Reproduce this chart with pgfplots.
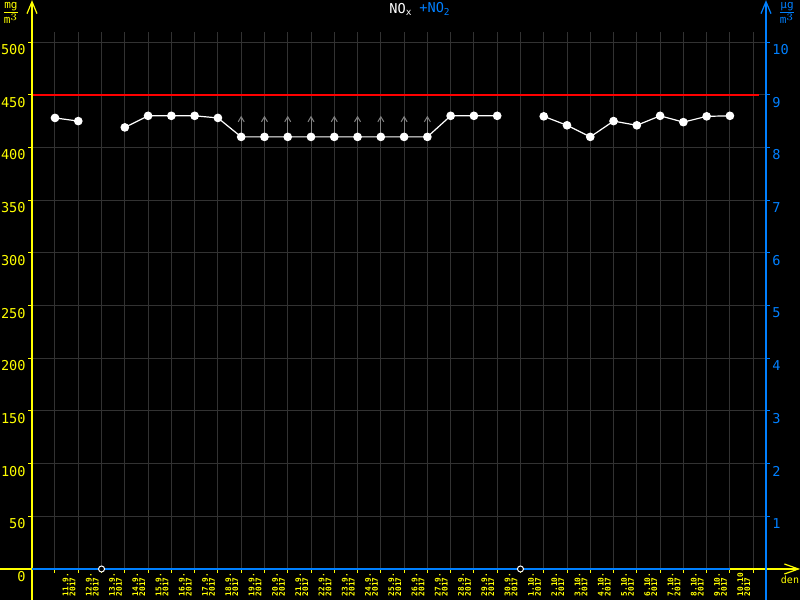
\documentclass[border=0pt]{standalone}
\usepackage{pgfplots}
\pgfplotsset{compat=1.18}
\usetikzlibrary{arrows.meta}
\usepackage{fontspec}
\setmainfont{DejaVu Sans Mono}
\definecolor{yel}{RGB}{255,255,0}
\definecolor{blu}{RGB}{0,128,255}
\definecolor{gridc}{RGB}{50,50,50}
\definecolor{arrc}{RGB}{128,128,128}
\newcommand\tickfont{\fontsize{6.8}{7}\selectfont}
\newcommand\xfont{\fontsize{3.9}{3.5}\selectfont\bfseries}
\pgfplotstableread{
k val
0 428
1 425
2 nan
3 419
4 430
5 430
6 430
7 428
8 410
9 410
10 410
11 410
12 410
13 410
14 410
15 410
16 410
17 430
18 430
19 430
20 nan
21 429.5
22 421
23 410
24 425
25 421
26 430
27 424
28 429.5
29 430
}\noxdata
\begin{document}
\begin{tikzpicture}
\path[use as bounding box, fill=black] (0,0) rectangle (400pt,300pt);
\begin{axis}[
  at={(16pt,15.5pt)}, anchor=south west, scale only axis,
  width=367pt, height=268.75pt,
  xmin=-0.988, xmax=30.55, ymin=0, ymax=510,
  clip=false,
  axis line style={draw=none},
  tick align=outside,
  major tick length=2pt, minor tick length=2pt,
  ytick={0,50,...,500}, ytick pos=left,
  y tick style={yel, line width=0.5pt},
  yticklabel style={text=yel, anchor=north east, inner sep=1pt, font=\tickfont},
  /pgf/number format/assume math mode=true,
  ymajorgrids,
  grid style={gridc, line width=0.5pt},
  minor grid style={gridc, line width=0.5pt},
  xtick={0.6,1.6,...,29.6},
  xticklabels={{11.9.\\2017},{12.9.\\2017},{13.9.\\2017},{14.9.\\2017},{15.9.\\2017},{16.9.\\2017},{17.9.\\2017},{18.9.\\2017},{19.9.\\2017},{20.9.\\2017},{21.9.\\2017},{22.9.\\2017},{23.9.\\2017},{24.9.\\2017},{25.9.\\2017},{26.9.\\2017},{27.9.\\2017},{28.9.\\2017},{29.9.\\2017},{30.9.\\2017},{1.10.\\2017},{2.10.\\2017},{3.10.\\2017},{4.10.\\2017},{5.10.\\2017},{6.10.\\2017},{7.10.\\2017},{8.10.\\2017},{9.10.\\2017},{10.10.\\2017}},
  xtick pos=bottom,
  major x tick style={draw=none},
  minor xtick={0,1,...,30},
  minor x tick style={yel, line width=0.5pt},
  xminorgrids,
  xticklabel shift=-2.6pt,
  xticklabel style={rotate=90, anchor=east, align=left, text width=14pt, text=yel, font=\xfont, inner sep=0pt},
  unbounded coords=jump,
]
\addplot[red, line width=1pt, forget plot] coordinates {(-0.988,450) (30.25,450)};
\addplot[arrc, line width=0.5pt, quiver={u=0, v=20}, -{Straight Barb[length=2.5pt, width=3pt]}] coordinates {(8,410) (9,410) (10,410) (11,410) (12,410) (13,410) (14,410) (15,410) (16,410)};
\addplot[white, line width=0.6pt, mark=*, mark size=1.85pt, mark options={fill=white}] table[x=k, y=val] {\noxdata};
\draw[yel, line width=0.6pt, -{Straight Barb[length=6pt, width=5pt]}] (axis cs:-0.988,-29.5) -- (axis cs:-0.988,539.8);
\draw[yel, line width=0.6pt, -{Straight Barb[length=7pt, width=5pt]}] (axis cs:-2.38,0) -- (axis cs:32.02,0);
\draw[blu, line width=0.6pt] (axis cs:-0.988,0) -- (axis cs:29,0);
\draw[blu, line width=0.6pt, -{Straight Barb[length=6pt, width=5pt]}] (axis cs:30.55,-29.5) -- (axis cs:30.55,539.8);
\addplot[only marks, mark=*, mark size=1.5pt, mark options={draw=white, fill=black, line width=0.5pt}] coordinates {(2,0) (20,0)};
\end{axis}
\begin{axis}[
  at={(16pt,15.5pt)}, anchor=south west, scale only axis,
  width=367pt, height=268.75pt,
  xmin=-0.988, xmax=30.55, ymin=0, ymax=10.2,
  axis line style={draw=none},
  hide x axis,
  tick align=outside, major tick length=2pt,
  ytick={1,...,10}, ytick pos=right, yticklabel pos=right,
  y tick style={blu, line width=0.5pt},
  yticklabel style={text=blu, anchor=north west, inner sep=1pt, font=\tickfont},
  /pgf/number format/assume math mode=true,
]
\end{axis}
\node[anchor=west, text=white, inner sep=0pt, font=\tickfont] at (194.5pt,295.5pt) {NO\textsubscript{x}};
\node[anchor=west, text=blu, inner sep=0pt, font=\tickfont] at (209.5pt,295.5pt) {+NO\textsubscript{2}};
\node[text=yel, inner sep=0pt, font=\fontsize{5.5}{5.5}\selectfont] at (5.5pt,293.5pt) {$\frac{\hbox{mg}}{\hbox{m}^{3}}$};
\node[text=blu, inner sep=0pt, font=\fontsize{5.5}{5.5}\selectfont] at (393.5pt,293.5pt) {$\frac{\hbox{µg}}{\hbox{m}^{3}}$};
\node[text=yel, inner sep=0pt, font=\fontsize{5}{5}\selectfont] at (395pt,10pt) {den};
\end{tikzpicture}
\end{document}
